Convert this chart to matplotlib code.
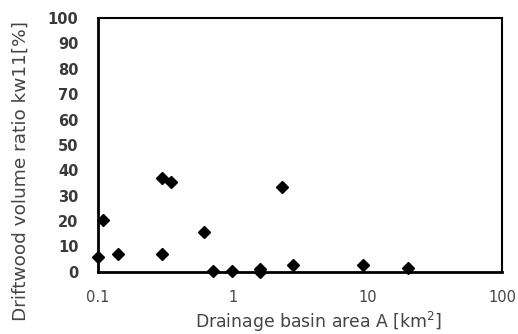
import matplotlib
matplotlib.use('Agg')
import matplotlib.pyplot as plt

# drainage basin area A [km2] and driftwood volume ratio kw11 [%]
area = [0.10, 0.11, 0.141, 0.30, 0.35, 0.30, 0.61, 0.72, 0.99, 1.6, 1.6, 2.32, 2.8, 9.3, 20.0]
ratio = [6.0, 20.5, 7.0, 36.8, 35.5, 7.2, 15.6, 0.4, 0.4, 1.2, 0.0, 33.6, 2.8, 2.9, 1.5]

yticks = list(range(0, 101, 10))
xticks = [0.1, 1, 10, 100]
xtick_labels = ['0.1', '1', '10', '100']

plt.rcParams['font.family'] = ['DejaVu Sans']

fig = plt.figure(figsize=(5.18, 3.34), dpi=100)
ax = fig.add_axes([0.189, 0.186, 0.780, 0.760])

ax.plot(area, ratio, 'D', color='black', markersize=6, clip_on=False, zorder=3)

ax.set_xscale('log')
ax.set_xlim(0.1, 100)
ax.set_ylim(0, 100)
ax.set_xticks(xticks)
ax.set_xticklabels(xtick_labels)
ax.minorticks_off()
ax.set_yticks(yticks)
ax.set_yticklabels([str(v) for v in yticks], fontweight='bold')
ax.tick_params(length=0, labelsize=10.5, colors='#3a3a3a')
ax.tick_params(axis='y', pad=14)
ax.tick_params(axis='x', pad=13, colors='#444444')

for s in ['left', 'bottom']:
    ax.spines[s].set_linewidth(2)
for s in ['top', 'right']:
    ax.spines[s].set_linewidth(1.5)

ax.set_xlabel('Drainage basin area A [km$^2$]', fontsize=12.4, color='#444444',
              va='center')
ax.xaxis.set_label_coords(0.545, -0.197)
ax.set_ylabel('Driftwood volume ratio kw11[%]', fontsize=13.3, color='#444444',
              va='center', ha='center')
ax.yaxis.set_label_coords(-0.19, 0.398)

fig.savefig('out.png', dpi=100)
